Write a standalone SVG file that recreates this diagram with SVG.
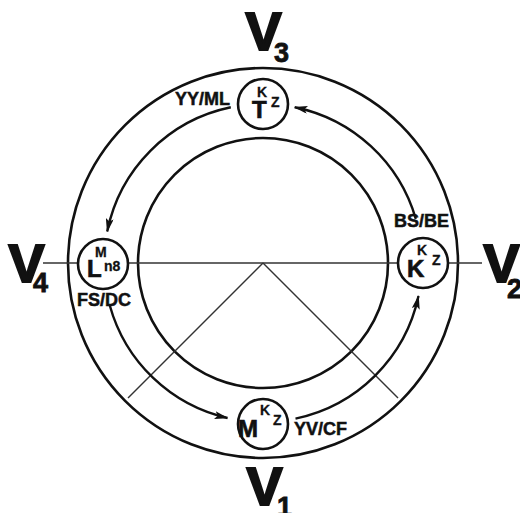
<svg xmlns="http://www.w3.org/2000/svg" width="520" height="513" viewBox="0 0 520 513">
<style>
.ring{fill:none;stroke:#111;stroke-width:2.6}
.thin{fill:none;stroke:#333;stroke-width:1.4}
.arr{fill:none;stroke:#111;stroke-width:2.4}
.node{fill:#fff;stroke:#111;stroke-width:2.6}
text{font-family:"Liberation Sans",Arial,sans-serif;font-weight:bold;fill:#111}
.big{font-size:54px;stroke:#111;stroke-width:2.2;text-anchor:middle}
.sub{font-size:27px;stroke:#111;stroke-width:0.8}
.lab{font-size:18px;stroke:#111;stroke-width:0.5}
.main{font-size:24px;stroke:#111;stroke-width:0.7}
.sup{font-size:14px;stroke:#111;stroke-width:0.3}
</style>
<defs>
<marker id="ah" markerUnits="userSpaceOnUse" markerWidth="14" markerHeight="8" viewBox="0 0 14 8" refX="13" refY="4" orient="auto">
<path d="M0,0 L14,4 L0,8 L3,4 z" fill="#111"/>
</marker>
</defs>
<g id="rings">
<circle class="ring" cx="263" cy="263" r="195"/>
<circle class="ring" cx="263" cy="263" r="125"/>
</g>
<g id="connectors">
<line class="thin" x1="43" y1="263" x2="482" y2="263"/>
<line class="thin" x1="263" y1="263" x2="128" y2="398"/>
<line class="thin" x1="263" y1="263" x2="398" y2="398"/>
<path class="arr" d="M230.8,107.3 A159,159 0 0 0 107.2,231.4" marker-end="url(#ah)"/>
<path class="arr" d="M415.8,218.9 A159,159 0 0 0 294.7,107.2" marker-end="url(#ah)"/>
<path class="arr" d="M109.8,305.5 A159,159 0 0 0 227.5,418" marker-end="url(#ah)"/>
<path class="arr" d="M295.5,418.6 A159,159 0 0 0 418.5,296.1" marker-end="url(#ah)"/>
</g>
<g id="node-T">
<circle class="node" cx="263" cy="104" r="25"/>
<text class="main" x="252" y="118">T</text>
<text class="sup" x="257" y="97">K</text>
<text class="sup" x="271" y="107">Z</text>
</g>
<g id="node-K">
<circle class="node" cx="423" cy="263" r="25"/>
<text class="main" x="407" y="277">K</text>
<text class="sup" x="417" y="255">K</text>
<text class="sup" x="432" y="265">Z</text>
</g>
<g id="node-M">
<circle class="node" cx="263" cy="424" r="25"/>
<text class="main" x="238" y="437">M</text>
<text class="sup" x="260" y="415">K</text>
<text class="sup" x="273" y="425">Z</text>
</g>
<g id="node-L">
<circle class="node" cx="103" cy="264" r="25"/>
<text class="main" x="87" y="277">L</text>
<text class="sup" x="95" y="257">M</text>
<text class="sup" x="104" y="271">n8</text>
</g>
<g id="labels">
<text class="lab" x="175" y="105">YY/ML</text>
<text class="lab" x="394" y="227">BS/BE</text>
<text class="lab" x="77" y="306">FS/DC</text>
<text class="lab" x="294" y="435">YV/CF</text>
</g>
<g id="V3"><text class="big" x="263.5" y="50">V</text><text class="sub" x="274" y="62">3</text></g>
<g id="V4"><text class="big" x="26.5" y="282">V</text><text class="sub" x="33" y="292">4</text></g>
<g id="V2"><text class="big" x="501.5" y="282">V</text><text class="sub" x="507" y="298">2</text></g>
<g id="V1"><text class="big" x="264.5" y="505">V</text><text class="sub" x="277" y="516">1</text></g>
</svg>
